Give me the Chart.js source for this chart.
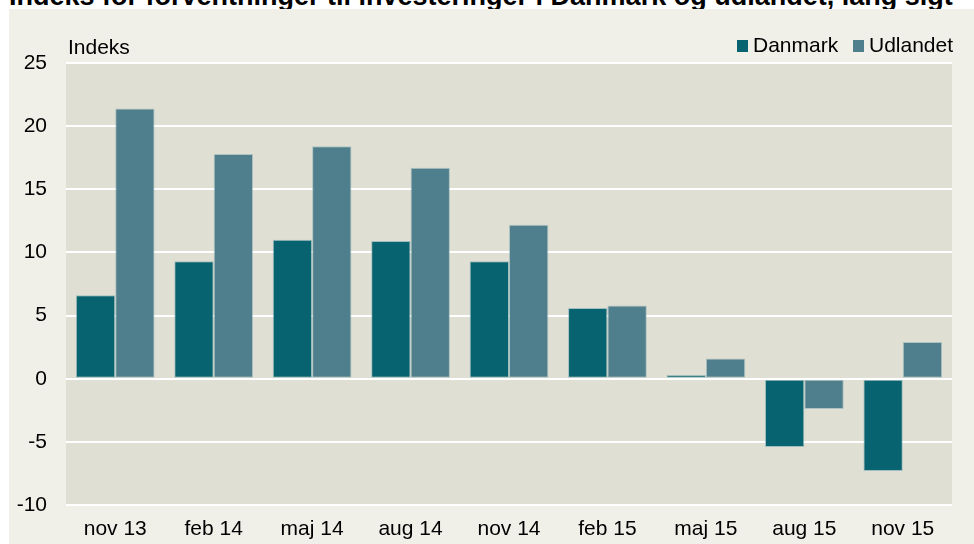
<!DOCTYPE html>
<html>
<head>
<meta charset="utf-8">
<script src="https://cdn.jsdelivr.net/npm/chart.js@4.4.0/dist/chart.umd.min.js"></script>
<style>
  html, body { margin: 0; padding: 0; background: #ffffff; }
  body { width: 974px; height: 544px; position: relative; overflow: hidden; font-family: "Liberation Sans", Arial, sans-serif; }
  #title { position: absolute; left: 9px; top: -17px; font-size: 27px; font-weight: bold; line-height: 26px; white-space: nowrap; color: #000; }
  #wrap { position: absolute; left: 9px; top: 9px; width: 965px; height: 535px; }
</style>
</head>
<body>
<div id="title">Indeks for forventninger til investeringer i Danmark og udlandet, lang sigt</div>
<div id="wrap"><canvas id="chart" width="965" height="535"></canvas></div>
<script>
// Data
const labels = ['nov 13', 'feb 14', 'maj 14', 'aug 14', 'nov 14', 'feb 15', 'maj 15', 'aug 15', 'nov 15'];
const danmark = [6.6, 9.3, 11.0, 10.9, 9.3, 5.6, 0.3, -5.4, -7.3];
const udlandet = [21.4, 17.8, 18.4, 16.7, 12.2, 5.8, 1.6, -2.4, 2.9];
const yTicks = [-10, -5, 0, 5, 10, 15, 20, 25];

const FONT = '"Liberation Sans", Arial, sans-serif';
const DK_COLOR = '#07636f';
const UD_COLOR = '#4f7f8c';

// Backgrounds, unit label and legend
const decorations = {
  id: 'decorations',
  beforeDraw(chart) {
    const { ctx, chartArea: a } = chart;
    ctx.save();
    ctx.fillStyle = '#f0efe8';
    ctx.fillRect(0, 0, chart.width, chart.height);
    ctx.fillStyle = '#e0dfd4';
    ctx.fillRect(a.left, a.top, a.right - a.left, a.bottom - a.top);
    ctx.restore();
  },
  afterDraw(chart) {
    const ctx = chart.ctx;
    ctx.save();
    ctx.font = '21px ' + FONT;
    ctx.fillStyle = '#000';
    ctx.textBaseline = 'alphabetic';
    ctx.fillText('Indeks', 59, 45);

    const items = [['Danmark', DK_COLOR, 728], ['Udlandet', UD_COLOR, 844]];
    items.forEach(([name, color, x]) => {
      ctx.fillStyle = color;
      ctx.fillRect(x, 31, 11, 12);
      ctx.fillStyle = '#000';
      ctx.fillText(name, x + 16, 43);
    });
    ctx.restore();
  }
};

new Chart(document.getElementById('chart'), {
  type: 'bar',
  data: {
    labels: labels,
    datasets: [
      { label: 'Danmark', data: danmark, backgroundColor: DK_COLOR, borderColor: 'rgba(120,170,178,0.6)', borderWidth: 1, borderSkipped: false },
      { label: 'Udlandet', data: udlandet, backgroundColor: UD_COLOR, borderColor: 'rgba(140,175,182,0.6)', borderWidth: 1, borderSkipped: false }
    ]
  },
  options: {
    responsive: false,
    animation: false,
    layout: { padding: { top: 54, right: 22, bottom: 0, left: 0 } },
    datasets: { bar: { categoryPercentage: 0.8, barPercentage: 1.0 } },
    plugins: {
      legend: { display: false },
      tooltip: { enabled: false }
    },
    scales: {
      x: {
        grid: { display: false, drawTicks: false },
        border: { display: false },
        ticks: { color: '#000', font: { family: FONT, size: 21 }, padding: 12, maxRotation: 0 },
        afterFit(scale) { scale.height = 39; }
      },
      y: {
        min: -10,
        max: 25,
        afterBuildTicks(scale) { scale.ticks = yTicks.map(v => ({ value: v })); },
        grid: { color: '#ffffff', lineWidth: 2, drawTicks: false },
        border: { display: false },
        ticks: { color: '#000', font: { family: FONT, size: 21 }, padding: 19 },
        afterFit(scale) { scale.width = 57; }
      }
    }
  },
  plugins: [decorations]
});
</script>
</body>
</html>
